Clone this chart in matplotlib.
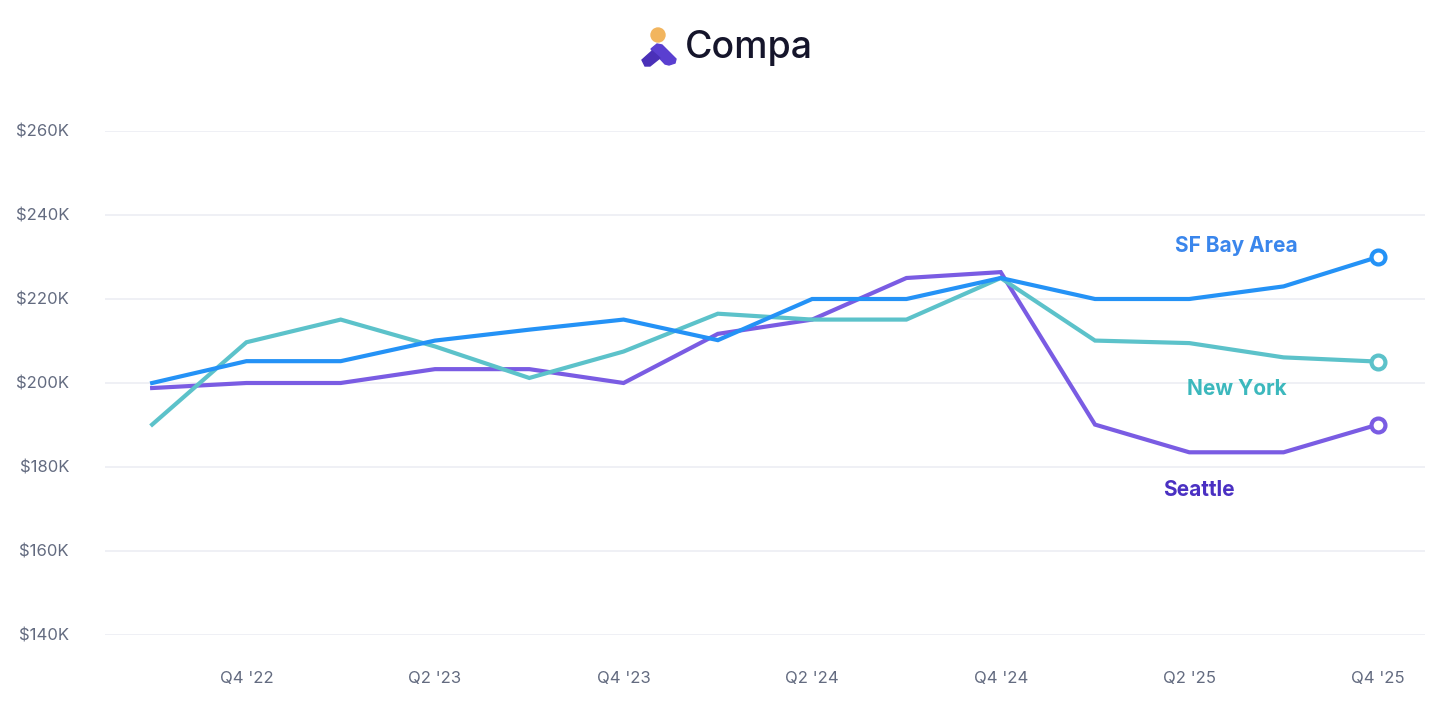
import numpy as np
import matplotlib.pyplot as plt
from matplotlib.patches import Ellipse, Polygon

plt.rcParams['font.family'] = ['Inter', 'DejaVu Sans']

quarters = ["Q3 '22", "Q4 '22", "Q1 '23", "Q2 '23", "Q3 '23", "Q4 '23", "Q1 '24",
            "Q2 '24", "Q3 '24", "Q4 '24", "Q1 '25", "Q2 '25", "Q3 '25", "Q4 '25"]
sf_bay = [200, 205.2, 205.2, 210.1, 212.7, 215.1, 210.2, 220, 220, 225, 220, 220, 223, 230]
new_york = [190.1, 209.7, 215.1, 208.7, 201.2, 207.5, 216.5, 215.1, 215.1, 225, 210.1, 209.5, 206.1, 205.1]
seattle = [198.8, 200, 200, 203.3, 203.3, 200, 211.7, 215.1, 225, 226.4, 190.1, 183.5, 183.5, 190.1]

c_sf = '#2492f6'
c_ny = '#5cc2ca'
c_sea = '#7a5ce3'

fig = plt.figure(figsize=(14.56, 7.2), dpi=100)
ax = fig.add_axes([105/1456, 1-635/720, 1320/1456, 504/720])

x = np.arange(len(quarters))
for vals, col in [(seattle, c_sea), (new_york, c_ny), (sf_bay, c_sf)]:
    ax.plot(x, vals, color=col, lw=3, solid_joinstyle='miter', zorder=3)
    ax.plot(x[-1], vals[-1], 'o', ms=10, mfc='white', mec=col, mew=3, zorder=4, clip_on=False)

ax.set_xlim(-0.5, 13.5)
ax.set_ylim(140, 260)
ax.set_yticks(np.arange(140, 261, 20))
ax.set_yticklabels(['$%dK' % v for v in range(140, 261, 20)])
ax.set_xticks(x[1::2])
ax.set_xticklabels(quarters[1::2])
ax.grid(axis='y', color='#eceef3', lw=1.2)
ax.set_axisbelow(True)
for s in ax.spines.values():
    s.set_visible(False)
ax.tick_params(length=0, labelsize=12, labelcolor='#636b80')
ax.tick_params(axis='y', pad=26)
ax.tick_params(axis='x', pad=26)

ax.text(11.5, 232.5, 'SF Bay Area', color='#3a86ec', fontsize=15, fontweight='bold', ha='center', va='center')
ax.text(11.5, 198.5, 'New York', color='#3cb8bd', fontsize=15, fontweight='bold', ha='center', va='center')
ax.text(11.1, 174.5, 'Seattle', color='#4a30c2', fontsize=15, fontweight='bold', ha='center', va='center')

# logo
fig.text(685/1456, 1-48/720, 'Compa', color='#15152b', fontsize=27, fontweight='medium',
         ha='left', va='center')
fig.patches.append(Ellipse((658/1456, 1-35/720), 14/1456, 14/720, transform=fig.transFigure,
                           color='#f2b55e', figure=fig))
def fpoly(pts, col):
    p = Polygon([(px/1456, 1-py/720) for px, py in pts], closed=True, color=col,
                transform=fig.transFigure, figure=fig)
    fig.patches.append(p)
fpoly([(651, 49), (657, 44), (662, 45), (676, 59), (675, 63), (669, 65), (665, 64)], '#5a3fd0')
fpoly([(642, 60), (652, 51), (660, 58), (650, 66), (645, 66)], '#4a30b8')

fig.savefig('out.png', dpi=100, facecolor='white')
